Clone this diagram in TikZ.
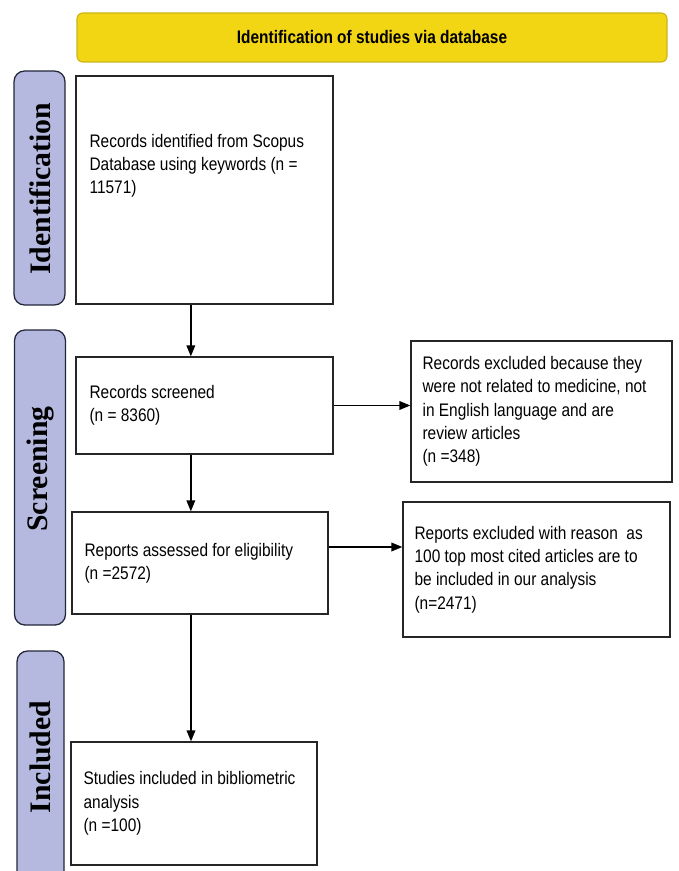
\documentclass[tikz,border=0pt]{standalone}
\usepackage{fontspec}
\setmainfont{Liberation Sans}[FakeStretch=0.85]
\newfontfamily\barfont{Liberation Serif}
\usepackage{tikz}
\usetikzlibrary{positioning,arrows.meta}

\definecolor{banneryellow}{HTML}{F2D613}
\definecolor{bannerline}{HTML}{CDB51A}
\definecolor{barfill}{HTML}{B5B9E0}
\definecolor{barline}{HTML}{23263A}

\begin{document}
\begin{tikzpicture}[
  stagebox/.style={draw=black!85, line width=1.1pt, minimum width=#1, inner sep=0pt},
  phasebar/.style={draw=barline, line width=1.1pt, rounded corners=9pt, fill=barfill,
    minimum width=1.53cm, minimum height=#1, inner sep=0pt},
  btext/.style={font=\fontsize{15.5pt}{19.9pt}\selectfont, align=left, inner sep=0pt},
  plabel/.style={font=\barfont\bfseries\fontsize{25.4pt}{28pt}\selectfont, rotate=90, inner sep=0pt},
  flow/.style={-{Triangle[length=3.3mm,width=2.6mm]}, line width=1.3pt},
  >=stealth
]
\clip (0,0) rectangle (20.34,-26.13);

\node[draw=bannerline, line width=1pt, rounded corners=5pt, fill=banneryellow,
  minimum width=17.7cm, minimum height=1.47cm] (banner) at (11.16,-1.125)
  {\fontsize{15.5pt}{18pt}\selectfont\bfseries Identification of studies via database};

% phase bars
\node[phasebar=7.02cm] (idbar) at (1.185,-5.64) {};
\node[plabel] (idlab) at (1.2,-5.66) {Identification};

\node[phasebar=8.85cm] (scbar) at (1.2,-14.325) {};
\node[plabel] (sclab) at (1.2,-14.07) {Screening};

\node[phasebar=7.2cm, minimum width=1.41cm] (inbar) at (1.215,-23.13) {};
\node[plabel] (inlab) at (1.2,-22.71) {Included};

% main boxes
\node[stagebox=7.71cm, minimum height=6.84cm] (ident) at (6.135,-5.7) {};
\node[btext, anchor=north west] (identtxt) at ([xshift=4.2mm,yshift=-1.75cm]ident.north west)
  {Records identified from Scopus\\Database using keywords (n =\\11571)};

\node[stagebox=7.71cm, minimum height=2.91cm] (screen) at (6.135,-12.165) {};
\node[btext, anchor=west] (screentxt) at ([xshift=4.2mm]screen.west)
  {Records screened\\(n = 8360)};

\node[stagebox=7.68cm, minimum height=3.06cm] (elig) at (6.0,-16.89) {};
\node[btext, anchor=west] (eligtxt) at ([xshift=3.9mm]elig.west)
  {Reports assessed for eligibility\\(n =2572)};

\node[stagebox=7.38cm, minimum height=3.69cm] (incl) at (5.82,-24.105) {};
\node[btext, anchor=west] (incltxt) at ([xshift=3.9mm]incl.west)
  {Studies included in bibliometric\\analysis\\(n =100)};

% exclusion boxes
\node[stagebox=7.83cm, minimum height=4.23cm] (excla) at (16.245,-12.345) {};
\node[btext, anchor=west] (exclatxt) at ([xshift=3.6mm]excla.west)
  {Records excluded because they\\were not related to medicine, not\\in English language and are\\review articles\\(n =348)};

\node[stagebox=8.01cm, minimum height=4.05cm] (exclb) at (16.095,-17.085) {};
\node[btext, anchor=west] (exclbtxt) at ([xshift=3.6mm]exclb.west)
  {Reports excluded with reason\ \ as\\100 top most cited articles are to\\be included in our analysis\\(n=2471)};

% arrows
\draw[flow] ([xshift=-4.1mm]ident.south) -- ([xshift=-4.1mm]screen.north);
\draw[flow] ([xshift=-4.1mm]screen.south) -- ([xshift=-4.1mm]screen.south |- elig.north);
\draw[flow] ([xshift=-2.7mm]elig.south) -- ([xshift=-2.7mm]elig.south |- incl.north);
\draw[flow] (screen.east) -- (screen.east -| excla.west);
\draw[flow] ([yshift=4.8mm]elig.east) -- ([yshift=4.8mm]elig.east -| exclb.west);

\end{tikzpicture}
\end{document}
